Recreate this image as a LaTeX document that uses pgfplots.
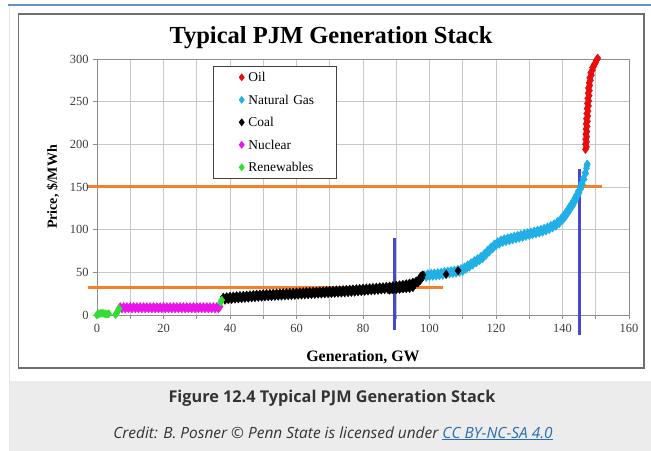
\documentclass[border=0pt]{standalone}
\usepackage{pgfplots}
\pgfplotsset{compat=1.18}
\usepackage{fontspec}
\setmainfont{Liberation Serif}
\newfontfamily\capfont{Open Sans}
\definecolor{oilred}{RGB}{232,12,12}
\definecolor{gascyan}{RGB}{32,176,230}
\definecolor{nucmag}{RGB}{232,20,232}
\definecolor{renewgreen}{RGB}{50,222,50}
\definecolor{reforange}{RGB}{245,128,42}
\definecolor{refblue}{RGB}{72,72,204}
\definecolor{gridgray}{RGB}{200,200,200}
\definecolor{axisgray}{RGB}{140,140,140}
\definecolor{capbg}{RGB}{236,236,236}
\definecolor{topblue}{RGB}{100,145,200}
\definecolor{linkblue}{RGB}{42,110,175}
\definecolor{capgray}{RGB}{51,51,51}
\definecolor{tickgray}{RGB}{60,60,60}
\definecolor{framegray}{RGB}{110,110,110}
\begin{document}
\begin{tikzpicture}
\useasboundingbox (0,0) rectangle (651bp,451bp);
\fill[white] (0,0) rectangle (651bp,451bp);
\fill[capbg] (10bp,0) rectangle (651bp,69.5bp);
\draw[gray!20, line width=0.8bp] (9bp,0) -- (9bp,446bp);
\draw[topblue, line width=1.2bp] (8bp,446bp) -- (651bp,446bp);
\draw[framegray, line width=1.5bp] (18.5bp,83bp) rectangle (644bp,437bp);
\node[anchor=base, font=\bfseries\fontsize{24.6}{29}\selectfont] at (331bp,407bp) {Typical PJM Generation Stack};
\node[anchor=base, font=\capfont\bfseries\fontsize{16.3}{19}\selectfont, text=capgray] at (332bp,48bp) {Figure 12.4 Typical PJM Generation Stack};
\node[anchor=base, font=\capfont\itshape\fontsize{15.5}{18}\selectfont, text=capgray] at (333bp,13bp) {Credit: B. Posner © Penn State is licensed under \textcolor{linkblue}{\underline{CC BY-NC-SA 4.0}}};
\begin{axis}[
  at={(97bp,136bp)}, anchor=south west,
  scale only axis, width=532bp, height=256bp,
  xmin=0, xmax=160, ymin=0, ymax=300,
  xtick={0,20,...,160}, minor xtick={10,30,...,150},
  ytick={0,50,...,300},
  grid=both,
  major grid style={gridgray, line width=0.8bp},
  minor grid style={gridgray, line width=0.8bp},
  axis line style={axisgray, line width=0.8bp},
  tick style={axisgray, line width=0.8bp},
  tick align=outside, tick pos=left,
  major tick length=4bp, minor tick length=4bp,
  /pgf/number format/assume math mode=true,
  ticklabel style={font=\fontsize{12.5}{14}\selectfont, text=tickgray},
  yticklabel style={xshift=-1bp},
  xticklabel style={yshift=-2bp},
  xlabel={Generation, GW},
  ylabel={Price, \$/MWh},
  xlabel style={font=\bfseries\fontsize{16}{19}\selectfont, at={(axis description cs:0.5,-0.1836)}, anchor=base},
  ylabel style={font=\bfseries\fontsize{14}{17}\selectfont, at={(axis description cs:-0.0752,0.5)}, anchor=base},
  clip=false,
  legend cell align=left,
  legend style={at={(axis cs:34.9,292.2)}, anchor=north west,
    draw=darkgray, line width=0.8bp, inner xsep=0bp, inner ysep=0bp, row sep=0bp,
    font=\fontsize{13.5}{16}\selectfont,
    nodes={inner sep=0bp, text width=88bp, text height=15.5bp, text depth=7bp}},
  legend image code/.code={\path[draw=none,fill=none] (0bp,0bp) -- (35bp,0bp); \draw[#1, only marks, mark size=3.3bp] plot coordinates {(28.3bp,0bp)};},
  every axis plot/.append style={only marks, mark=diamond*, mark size=4.1bp},
]
% Oil
\addplot[oilred, mark options={fill=oilred, draw=oilred}] coordinates {
(146.9,194) (147.2,197) (146.9,200) (147.25,203) (146.95,206) (147.3,209) (147.0,212) (147.35,215)
(147.05,218) (147.4,221) (147.1,224) (147.5,227) (147.2,230) (147.6,233) (147.3,236) (147.7,239)
(147.4,242) (147.8,245) (147.5,248) (147.9,251) (147.6,254) (148.0,257) (147.7,260) (148.1,263)
(147.8,266) (148.2,269) (148.0,272) (148.4,275) (148.2,278) (148.7,281) (148.5,284) (149.0,287)
(149.0,290) (149.5,292) (149.6,294) (150.0,296) (150.1,298) (150.4,299.5) (150.6,301)
};
\addlegendentry{Oil}
% Natural gas
\addplot[gascyan, mark options={fill=gascyan, draw=gascyan}] coordinates {
(98.5,47) (99.0,44) (99.5,48.5) (100,45) (100.5,49) (101,45.3) (101.5,49.3) (102,45.6)
(102.5,49.7) (103,46) (103.5,50.2) (104,46.5) (104.5,50.9) (105,47.2) (105.5,51.6) (106,48)
(106.5,52.2) (107,48.5) (107.5,52.7) (108,49) (108.5,53.5) (109,50) (109.5,54.5) (110,51)
(110.5,56.3) (111,53.5) (111.5,58.8) (112,56) (112.5,61.3) (113,58.5) (113.5,63.8) (114,61)
(114.5,66.3) (115,63.5) (115.5,68.8) (116,66) (116.5,72) (117,70) (117.5,76) (118,74)
(118.5,79.8) (119,77.5) (119.5,83.3) (120,81) (120.5,86) (121,83) (121.5,88) (122,85)
(122.5,89.5) (123,86) (123.5,90.5) (124,87) (124.5,91.5) (125,88) (125.5,92.5) (126,89)
(126.5,93.5) (127,90) (127.5,94.5) (128,91) (128.5,95.5) (129,92) (129.5,96.5) (130,93)
(130.5,97.5) (131,94) (131.5,98.5) (132,95) (132.5,99.5) (133,96) (133.5,100.5) (134,97)
(134.5,101.8) (135,98.5) (135.5,103.3) (136,100) (136.5,105) (137,102) (137.5,107) (138,104)
(138.5,109.5) (139,107) (139.5,113) (140,111) (140.25,116.3) (140.5,113.5) (140.75,118.8) (141,116)
(141.25,121.5) (141.5,119) (141.75,124.5) (142,122) (142.25,127.5) (142.5,125) (142.75,130.5) (143,128)
(143.25,133.8) (143.5,131.5) (143.75,137.3) (144,135) (144.25,141) (144.5,139) (144.75,145) (145,143)
(145.25,149.5) (145.5,148) (145.75,154.5) (146,153) (146.25,160) (146.5,159) (146.75,166.5) (147,166)
(147.2,172) (147.35,175) (147.45,177)
};
\addlegendentry{Natural Gas}
% Coal
\addplot[black, mark options={fill=black, draw=black}] coordinates {
(38.0,21.0) (38.5,17.3) (39.0,21.5) (39.5,17.8) (40.0,22.0) (40.5,18.2) (41.0,22.3) (41.5,18.5)
(42.0,22.6) (42.5,18.8) (43.0,22.9) (43.5,19.1) (44.0,23.2) (44.5,19.4) (45.0,23.5) (45.5,19.7)
(46.0,23.8) (46.5,20.0) (47.0,24.1) (47.5,20.3) (48.0,24.4) (48.5,20.6) (49.0,24.7) (49.5,20.9)
(50.0,25.0) (50.5,21.1) (51.0,25.2) (51.5,21.3) (52.0,25.4) (52.5,21.5) (53.0,25.6) (53.5,21.7)
(54.0,25.8) (54.5,21.9) (55.0,26.0) (55.5,22.1) (56.0,26.2) (56.5,22.3) (57.0,26.4) (57.5,22.5)
(58.0,26.6) (58.5,22.7) (59.0,26.8) (59.5,22.9) (60.0,27.0) (60.5,23.1) (61.0,27.2) (61.5,23.3)
(62.0,27.4) (62.5,23.5) (63.0,27.6) (63.5,23.7) (64.0,27.8) (64.5,23.9) (65.0,28.0) (65.5,24.1)
(66.0,28.2) (66.5,24.3) (67.0,28.4) (67.5,24.5) (68.0,28.6) (68.5,24.7) (69.0,28.8) (69.5,24.9)
(70.0,29.0) (70.5,25.1) (71.0,29.2) (71.5,25.3) (72.0,29.4) (72.5,25.5) (73.0,29.6) (73.5,25.7)
(74.0,29.8) (74.5,25.9) (75.0,30.0) (75.5,26.15) (76.0,30.3) (76.5,26.45) (77.0,30.6) (77.5,26.75)
(78.0,30.9) (78.5,27.05) (79.0,31.2) (79.5,27.35) (80.0,31.5) (80.5,27.65) (81.0,31.8) (81.5,27.95)
(82.0,32.1) (82.5,28.25) (83.0,32.4) (83.5,28.55) (84.0,32.7) (84.5,28.85) (85.0,33.0) (85.5,29.2)
(86.0,33.3) (86.5,29.5) (87.0,33.7) (87.5,29.8) (88.0,34.0) (88.5,30.25) (89.0,34.5) (89.5,30.75)
(90.0,35.0) (90.5,31.25) (91.0,35.5) (91.5,31.75) (92.0,36.0) (92.5,32.4) (93.0,36.75) (93.5,33.1)
(94.0,37.5) (94.5,34.0) (95.0,38.5) (95.5,35.25) (96.0,40.0) (96.5,37.5) (97.0,43.0) (97.25,40.6)
(97.5,46.0) (97.75,43.6) (98.0,47)
(88,29) (89,29.5) (90,29.8) (91,30) (92,30.5) (93,30.8) (94,31) (95,32)
(105,47.7) (108.6,51.9)
};
\addlegendentry{Coal}
% Nuclear
\addplot[nucmag, mark options={fill=nucmag, draw=nucmag}] coordinates {
(7.0,9.8) (7.5,7.2) (8.0,9.8) (8.5,7.2) (9.0,9.8) (9.5,7.2) (10.0,9.8) (10.5,7.2)
(11.0,9.8) (11.5,7.2) (12.0,9.8) (12.5,7.2) (13.0,9.8) (13.5,7.2) (14.0,9.8) (14.5,7.2)
(15.0,9.8) (15.5,7.2) (16.0,9.8) (16.5,7.2) (17.0,9.8) (17.5,7.2) (18.0,9.8) (18.5,7.2)
(19.0,9.8) (19.5,7.2) (20.0,9.8) (20.5,7.2) (21.0,9.8) (21.5,7.2) (22.0,9.8) (22.5,7.2)
(23.0,9.8) (23.5,7.2) (24.0,9.8) (24.5,7.2) (25.0,9.8) (25.5,7.2) (26.0,9.8) (26.5,7.2)
(27.0,9.8) (27.5,7.2) (28.0,9.8) (28.5,7.2) (29.0,9.8) (29.5,7.2) (30.0,9.8) (30.5,7.2)
(31.0,9.8) (31.5,7.2) (32.0,9.8) (32.5,7.2) (33.0,9.8) (33.5,7.2) (34.0,9.8) (34.5,7.2)
(35.0,9.8) (35.5,7.2) (36.0,9.8) (36.5,7.2) (37.0,9.8)
};
\addlegendentry{Nuclear}
% Renewables
\addplot[renewgreen, mark options={fill=renewgreen, draw=renewgreen}] coordinates {
(0,0) (0.6,1.5) (1.2,2) (1.8,2) (2.4,1.5) (3.0,1) (3.5,1.5) (5.6,0.5) (6.0,2.5) (6.3,5) (6.6,7.5)
(37.2,15) (37.5,17.5)
};
\addlegendentry{Renewables}
% reference lines
\addplot[forget plot, no marks, sharp plot, reforange, line width=3bp] coordinates {(-2.6,150) (151.9,150)};
\addplot[forget plot, no marks, sharp plot, reforange, line width=3bp] coordinates {(-2.6,32.5) (104,32.5)};
\addplot[forget plot, no marks, sharp plot, refblue, line width=3bp] coordinates {(89.6,-17) (89.6,90)};
\addplot[forget plot, no marks, sharp plot, refblue, line width=3bp] coordinates {(145,-23) (145,171)};
\end{axis}
\end{tikzpicture}
\end{document}
